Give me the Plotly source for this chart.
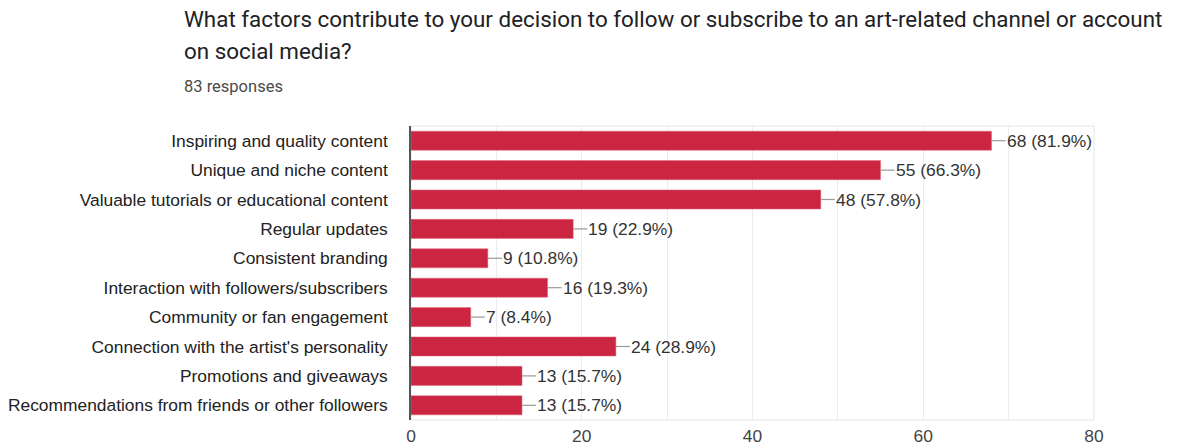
import plotly.graph_objects as go

factors = [
    "Inspiring and quality content",
    "Unique and niche content",
    "Valuable tutorials or educational content",
    "Regular updates",
    "Consistent branding",
    "Interaction with followers/subscribers",
    "Community or fan engagement",
    "Connection with the artist's personality",
    "Promotions and giveaways",
    "Recommendations from friends or other followers",
]
counts = [68, 55, 48, 19, 9, 16, 7, 24, 13, 13]
percents = [81.9, 66.3, 57.8, 22.9, 10.8, 19.3, 8.4, 28.9, 15.7, 15.7]
x_ticks = [0, 20, 40, 60, 80]

BAR = "#cc2542"
LABEL_FONT = "Liberation Sans, Arial, sans-serif"

fig = go.Figure(
    go.Bar(
        x=counts,
        y=factors,
        orientation="h",
        marker=dict(color=BAR, line=dict(color="#e06a7e", width=0.5)),
        hoverinfo="skip",
    )
)

# value labels with short leader lines
for f, c, p in zip(factors, counts, percents):
    fig.add_shape(
        type="line", xref="x", yref="y", xsizemode="pixel", xanchor=c,
        x0=0, x1=14, y0=f, y1=f, line=dict(color="#999999", width=1.2),
    )
    fig.add_annotation(
        x=c, y=f, xref="x", yref="y", text=f"{c} ({p}%)", showarrow=False,
        xanchor="left", xshift=13, font=dict(family=LABEL_FONT, size=17.4, color="#333333"),
    )

# light frame around plot area
fig.add_shape(type="rect", xref="paper", yref="paper", x0=0, x1=1, y0=0, y1=1,
              line=dict(color="#e6e6e6", width=1), layer="below")

title_font = "Roboto, sans-serif"
fig.add_annotation(text="What factors contribute to your decision to follow or subscribe to an art-related channel or account",
                   xref="paper", yref="paper", x=-0.3355, y=1.363, xanchor="left", yanchor="middle",
                   showarrow=False, font=dict(family=title_font, size=22.4, color="#202124"))
fig.add_annotation(text="on social media?",
                   xref="paper", yref="paper", x=-0.3355, y=1.255, xanchor="left", yanchor="middle",
                   showarrow=False, font=dict(family=title_font, size=22.4, color="#202124"))
fig.add_annotation(text="83 responses",
                   xref="paper", yref="paper", x=-0.3355, y=1.136, xanchor="left", yanchor="middle",
                   showarrow=False, font=dict(family=title_font, size=16.5, color="#4a4a4a"))

fig.update_layout(
    width=1179, height=448,
    margin=dict(l=411, r=85, t=126, b=28, autoexpand=False),
    paper_bgcolor="white", plot_bgcolor="white",
    bargap=0.35,
    showlegend=False,
    xaxis=dict(
        range=[0, 80], tickvals=x_ticks, ticktext=[str(t) for t in x_ticks],
        showgrid=True, gridcolor="#ebebeb", gridwidth=1,
        minor=dict(dtick=10, showgrid=True, gridcolor="#ebebeb", gridwidth=1),
        zeroline=False, showline=False, ticks="",
        tickfont=dict(family=LABEL_FONT, size=17.4, color="#444444"),
        ticklabelstandoff=4, fixedrange=True, automargin=False,
    ),
    yaxis=dict(
        autorange="reversed", showgrid=False, zeroline=False,
        showline=True, linecolor="#555555", linewidth=1.5, ticks="",
        tickfont=dict(family=LABEL_FONT, size=17.4, color="#222222"),
        ticklabelstandoff=18, fixedrange=True, automargin=False,
    ),
)

fig.write_html("out.html")
